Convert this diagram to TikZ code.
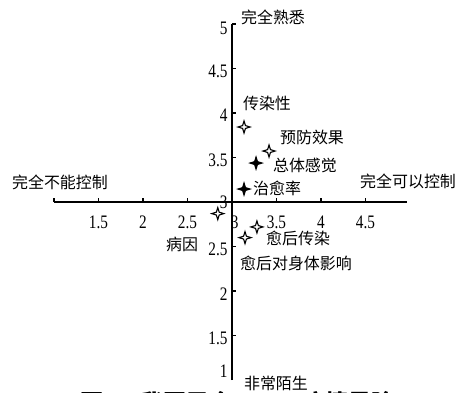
\documentclass[tikz,border=0pt]{standalone}
\usepackage{fontspec}
\setmainfont{Liberation Serif}
\newfontfamily\cjk{Noto Sans CJK SC}
\usetikzlibrary{positioning}

\tikzset{
  lab/.style={font=\cjk\fontsize{5.1}{6}\selectfont, inner sep=0pt},
  num/.style={font=\fontsize{6.1}{7}\selectfont, inner sep=0pt, xscale=0.8},
  ptmark/.pic={
    \coordinate (-c) at (0,0);
    \draw[line width=0.35pt, line join=miter, pic actions]
      (0,0.068) -- (0.016,0.016) -- (0.068,0) -- (0.016,-0.016) --
      (0,-0.068) -- (-0.016,-0.016) -- (-0.068,0) -- (-0.016,0.016) -- cycle;
  },
  openpt/.style={fill=white},
  fullpt/.style={fill=black},
  axis/.style={line width=0.5pt}
}

\begin{document}
\begin{tikzpicture}
  \clip (0.393,0.865) rectangle (5.618,5.270);
  % caption, mostly cut off
  \node[font=\cjk\bfseries\fontsize{7.4}{9}\selectfont, anchor=base west, inner sep=0pt]
    (cap) at (1.292,0.65) {图 2\enspace\ 我国民众对新冠疫情风险};

  % tick labels
  \node[num] (x1) at (1.5,2.775) {1.5};
  \node[num] (x2) at (2,2.775) {2};
  \node[num] (x3) at (2.5,2.775) {2.5};
  \node[num] (x4) at (3.03,2.775) {3};
  \node[num] (x5) at (3.5,2.775) {3.5};
  \node[num] (x6) at (4,2.775) {4};
  \node[num] (x7) at (4.5,2.775) {4.5};
  \node[num, anchor=east] (y1) at (2.955,1.1) {1};
  \node[num, anchor=east] (y2) at (2.955,1.47) {1.5};
  \node[num, anchor=east] (y3) at (2.955,1.97) {2};
  \node[num, anchor=east] (y4) at (2.955,2.47) {2.5};
  \node[num, anchor=east] (y5) at (2.955,3.0) {3};
  \node[num, anchor=east] (y6) at (2.955,3.47) {3.5};
  \node[num, anchor=east] (y7) at (2.955,3.97) {4};
  \node[num, anchor=east] (y8) at (2.955,4.47) {4.5};
  \node[num, anchor=east] (y9) at (2.955,4.95) {5};

  % axes
  \coordinate (xl) at (1,3);
  \coordinate (xr) at (4.966,3);
  \coordinate (yb) at (3,1);
  \coordinate (yt) at (3,5);
  \draw[axis] (xl) -- (xr);
  \draw[axis] (yb) -- (yt);
  \draw[axis] (1,3) -- (1,3.045);
  \draw[axis] (1.5,3) -- (1.5,3.045);
  \draw[axis] (2,3) -- (2,3.045);
  \draw[axis] (2.5,3) -- (2.5,3.045);
  \draw[axis] (3.5,3) -- (3.5,3.045);
  \draw[axis] (4,3) -- (4,3.045);
  \draw[axis] (4.5,3) -- (4.5,3.045);
  \draw[axis] (3,1.5) -- (3.045,1.5);
  \draw[axis] (3,2) -- (3.045,2);
  \draw[axis] (3,2.5) -- (3.045,2.5);
  \draw[axis] (3,3.5) -- (3.045,3.5);
  \draw[axis] (3,4) -- (3.045,4);
  \draw[axis] (3,4.5) -- (3.045,4.5);
  \draw[axis] (3,5) -- (3.045,5);

  % ends of the axes
  \node[lab] (know) at (3.461,5.079) {完全熟悉};
  \node[lab, fill=white, inner xsep=0.06cm, inner ysep=0.1cm] (strange) at (3.494,0.966) {非常陌生};
  \node[lab] (noctrl) at (1.067,3.225) {完全不能控制};
  \node[lab] (ctrl) at (4.978,3.236) {完全可以控制};

  % points
  \pic[openpt] (p1) at (3.135,3.843) {ptmark};
  \pic[openpt] (p2) at (3.416,3.573) {ptmark};
  \pic[fullpt] (p3) at (3.27,3.438) {ptmark};
  \pic[fullpt] (p4) at (3.135,3.146) {ptmark};
  \pic[openpt] (p5) at (2.84,2.87) {ptmark};
  \pic[openpt] (p6) at (3.28,2.72) {ptmark};
  \pic[openpt] (p7) at (3.146,2.6) {ptmark};
  \node[lab] (t1) at (3.393,4.112) {传染性};
  \node[lab] (t2) at (3.899,3.730) {预防效果};
  \node[lab] (t3) at (3.820,3.416) {总体感觉};
  \node[lab] (t4) at (3.506,3.157) {治愈率};
  \node[lab] (t5) at (2.438,2.528) {病因};
  \node[lab] (t6) at (3.742,2.596) {愈后传染};
  \node[lab] (t7) at (3.719,2.315) {愈后对身体影响};
\end{tikzpicture}
\end{document}
